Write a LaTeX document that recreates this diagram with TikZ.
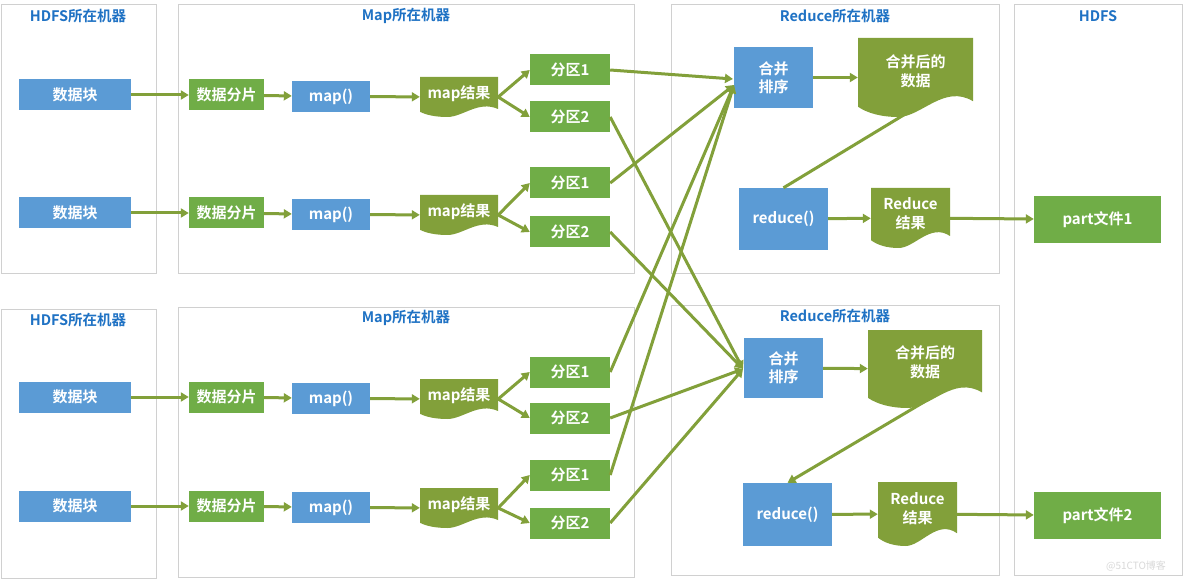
\documentclass[tikz,border=0pt]{standalone}
\usepackage{fontspec}
\setmainfont{Noto Sans CJK SC}[BoldFont={Noto Sans CJK SC Bold}]
\usetikzlibrary{arrows.meta,calc}
\definecolor{bx}{HTML}{5B9BD5}
\definecolor{gr}{HTML}{70AD47}
\definecolor{ol}{HTML}{82A03A}
\definecolor{tb}{HTML}{1F72C4}
\definecolor{fr}{HTML}{D0D0D0}
\tikzset{
  frame/.style={draw=fr,line width=1pt},
  ttl/.style={text=tb,font=\bfseries\fontsize{14.5}{16}\selectfont,inner sep=0pt},
  blk/.style={fill=bx,text=white,font=\bfseries\fontsize{15}{18}\selectfont,inner sep=0pt,align=center},
  grn/.style={fill=gr,text=white,font=\bfseries\fontsize{15}{18}\selectfont,inner sep=0pt,align=center},
  dtxt/.style={text=white,font=\bfseries\fontsize{15}{19}\selectfont,inner sep=0pt,align=center},
  arr/.style={draw=ol,line width=3pt,-{Triangle[length=8pt,width=9pt]}},
  ln/.style={draw=ol,line width=3pt},
}
% box by pixel extents
\newcommand\bxn[7]{\node[#1,minimum width={(#5)-(#3)},minimum height={(#6)-(#4)}] (#2) at ({((#3)+(#5))/2},{((#4)+(#6))/2}) {#7};}
% document shape
\newcommand\docn[6]{%
  \pgfmathsetmacro\xa{#2}\pgfmathsetmacro\ya{#3}\pgfmathsetmacro\xb{#4}\pgfmathsetmacro\yb{#5}%
  \pgfmathsetmacro\w{\xb-\xa}\pgfmathsetmacro\h{\yb-\ya}%
  \fill[ol] (\xa,\ya) -- (\xb,\ya) -- (\xb,{\yb-.2*\h}) .. controls ({\xa+.75*\w},{\yb-.42*\h}) and ({\xa+.55*\w},\yb) .. ({\xa+.35*\w},\yb) .. controls ({\xa+.2*\w},\yb) and ({\xa+.08*\w},{\yb-.05*\h}) .. (\xa,{\yb-.13*\h}) -- cycle;
  \node[inner sep=0,minimum width=\w,minimum height=\h] (#1) at ({(\xa+\xb)/2},{(\ya+\yb)/2}) {};
  \node[dtxt] (#1-t) at ({(\xa+\xb)/2},{\ya+.42*\h}) {#6};}
\newcommand\maprow[4]{%
  \bxn{blk}{#1a}{19}{#2-15.5}{131}{#2+15.5}{数据块}
  \bxn{grn}{#1b}{189}{#2-15.5}{264}{#2+15.5}{数据分片}
  \bxn{blk}{#1c}{292}{#2-14}{370}{#2+17}{map()}
  \docn{#1d}{420}{#2-18}{498}{#2+22}{map结果}
  \bxn{grn}{#1p}{530}{#3-15.5}{610}{#3+15.5}{分区1}
  \bxn{grn}{#1q}{530}{#4-15.5}{610}{#4+15.5}{分区2}
  \draw[arr] (#1a) -- (#1b);
  \draw[arr] (#1b) -- (#1c);
  \draw[arr] (#1c) -- (#1d);
  \draw[arr] (#1d.east) -- (#1p.west);
  \draw[arr] (#1d.east) -- (#1q.west);}
\begin{document}
\begin{tikzpicture}[x=1pt,y=-1pt]
\useasboundingbox[fill=white] (0,0) rectangle (1184,580);
\draw[frame] (1,5) rectangle (156,274);
\draw[frame] (1,309) rectangle (156,578);
\draw[frame] (178,5) rectangle (634,274);
\draw[frame] (178,307) rectangle (634,577);
\draw[frame] (671,5) rectangle (999,274);
\draw[frame] (671,305) rectangle (999,575);
\draw[frame] (1014,5) rectangle (1182,575);
\node[ttl] (t1) at (78,16) {HDFS所在机器};
\node[ttl] (t2) at (406,16) {Map所在机器};
\node[ttl] (t3) at (835,16) {Reduce所在机器};
\node[ttl] (t4) at (1098,16) {HDFS};
\node[ttl] (t5) at (78,320) {HDFS所在机器};
\node[ttl] (t6) at (406,318) {Map所在机器};
\node[ttl] (t7) at (835,316) {Reduce所在机器};
\maprow{ra}{95}{70}{117}
\maprow{rb}{213}{183}{232}
\maprow{rc}{397}{372}{418}
\maprow{rd}{506}{475}{523}
% reduce top
\bxn{blk}{m1}{734}{47}{813}{108}{合并\\排序}
\docn{d1}{858}{38}{973}{117}{合并后的\\数据}
\bxn{blk}{r1}{739}{188}{828}{250}{reduce()}
\docn{e1}{871}{188}{950}{248}{Reduce\\结果}
\bxn{grn}{f1}{1034}{196}{1161}{243}{part文件1}
% reduce bottom
\bxn{blk}{m2}{744}{338}{823}{398}{合并\\排序}
\docn{d2}{868}{330}{982}{408}{合并后的\\数据}
\bxn{blk}{r2}{743}{483}{832}{546}{reduce()}
\docn{e2}{878}{482}{957}{546}{Reduce\\结果}
\bxn{grn}{f2}{1034}{492}{1161}{539}{part文件2}
\coordinate (k1) at (733,79);
\coordinate (k2) at (734,85);
\coordinate (k3) at (743,369);
\draw[arr] (rap.east) -- (k1);
\draw[arr] (rbp.east) -- (k2);
\draw[arr] (rcp.east) -- (k2);
\draw[arr] (rdp.east) -- (k2);
\draw[arr] (raq.east) -- (k3);
\draw[arr] (rbq.east) -- (k3);
\draw[arr] (rcq.east) -- (k3);
\draw[arr] (rdq.east) -- (k3);
\draw[arr] (m1) -- (d1);
\draw[arr] (m2) -- (d2);
\coordinate (s1) at (907,113);
\coordinate (s2) at (924,402);
\draw[ln] (s1) -- (r1.north);
\draw[arr] (s2) -- (r2.north);
\draw[arr] (r1) -- (e1);
\draw[arr] (r2) -- (e2);
\draw[arr] (e1) -- (f1);
\draw[arr] (e2) -- (f2);
\node[text=black!15,font=\fontsize{10}{11}\selectfont,inner sep=0] (wm) at (1136,566) {@51CTO博客};
\end{tikzpicture}
\end{document}
